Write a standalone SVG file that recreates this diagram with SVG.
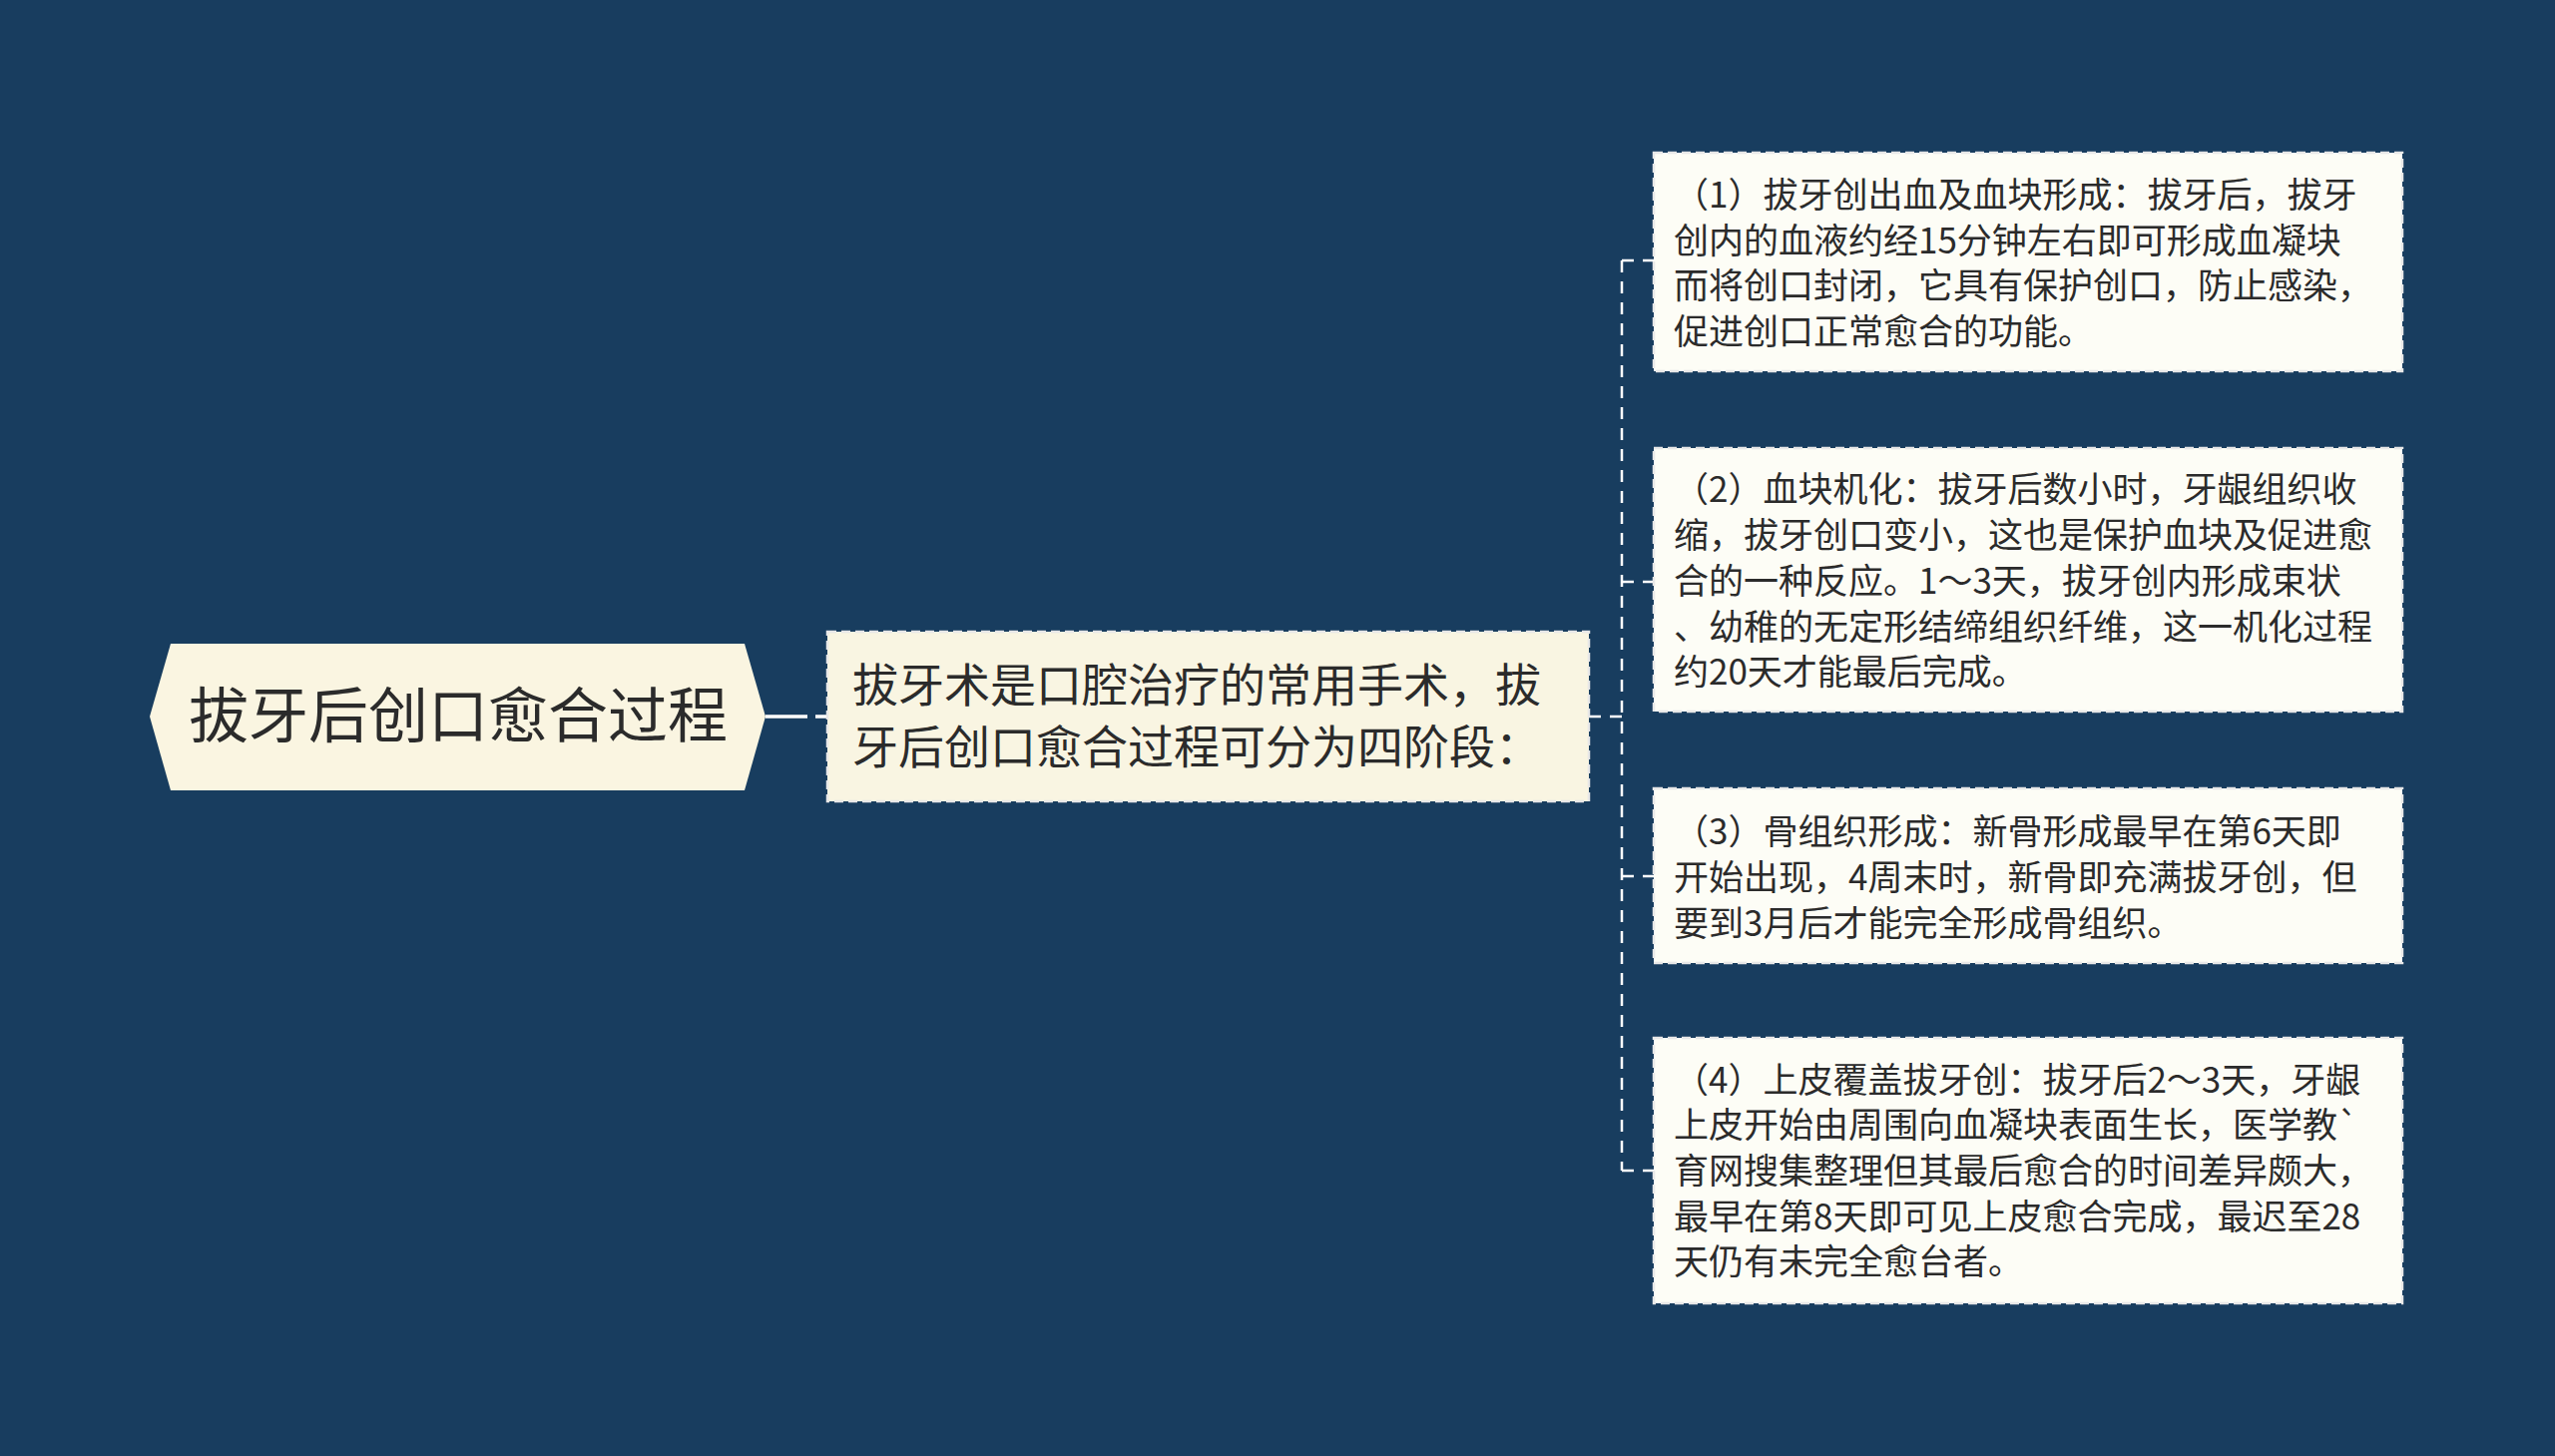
<svg xmlns="http://www.w3.org/2000/svg" width="2560" height="1459" viewBox="0 0 2560 1459">
<style>
.t{font-family:"Noto Sans CJK SC","Liberation Sans",sans-serif;fill:#2b2b2b}
.root{font-size:60px}
.mid{font-size:46px}
.leaf{font-size:35px}
.box{stroke:#e8e8e8;stroke-width:2.5;stroke-dasharray:9 5}
.conn{fill:none;stroke:#ffffff;stroke-width:2.5;stroke-dasharray:12 9}
</style>
<rect width="2560" height="1459" fill="#183d5f"/>
<g id="connectors">
<path d="M767 718 H829" fill="none" stroke="#ffffff" stroke-width="3.5" stroke-dasharray="42 8 12 8"/>
<path class="conn" d="M1592 718 H1625"/>
<path class="conn" d="M1625 261 V1173"/>
<path class="conn" d="M1625 261 H1657"/>
<path class="conn" d="M1625 583 H1657"/>
<path class="conn" d="M1625 878 H1657"/>
<path class="conn" d="M1625 1173 H1657"/>
</g>
<g id="root">
<polygon points="150,718 171,645 746,645 767,718 746,792 171,792" fill="#faf5e1"/>
<text class="t root" x="459" y="739" text-anchor="middle">拔牙后创口愈合过程</text>
</g>
<g id="mid">
<rect class="box" x="829" y="633" width="763" height="170" fill="#f9f5e2"/>
<text class="t mid" x="854" y="703">拔牙术是口腔治疗的常用手术，拔</text>
<text class="t mid" x="854" y="765">牙后创口愈合过程可分为四阶段：</text>
</g>
<g id="leaf1">
<rect class="box" x="1657" y="153" width="750" height="219" fill="#fdfdf6"/>
<text class="t leaf" x="1677" y="208">（1）拔牙创出血及血块形成：拔牙后，拔牙</text>
<text class="t leaf" x="1677" y="254">创内的血液约经15分钟左右即可形成血凝块</text>
<text class="t leaf" x="1677" y="299">而将创口封闭，它具有保护创口，防止感染，</text>
<text class="t leaf" x="1677" y="345">促进创口正常愈合的功能。</text>
</g>
<g id="leaf2">
<rect class="box" x="1657" y="449" width="750" height="264" fill="#fdfdf6"/>
<text class="t leaf" x="1677" y="503">（2）血块机化：拔牙后数小时，牙龈组织收</text>
<text class="t leaf" x="1677" y="549">缩，拔牙创口变小，这也是保护血块及促进愈</text>
<text class="t leaf" x="1677" y="595">合的一种反应。1～3天，拔牙创内形成束状</text>
<text class="t leaf" x="1677" y="641">、幼稚的无定形结缔组织纤维，这一机化过程</text>
<text class="t leaf" x="1677" y="686">约20天才能最后完成。</text>
</g>
<g id="leaf3">
<rect class="box" x="1657" y="790" width="750" height="175" fill="#fdfdf6"/>
<text class="t leaf" x="1677" y="846">（3）骨组织形成：新骨形成最早在第6天即</text>
<text class="t leaf" x="1677" y="892">开始出现，4周末时，新骨即充满拔牙创，但</text>
<text class="t leaf" x="1677" y="938">要到3月后才能完全形成骨组织。</text>
</g>
<g id="leaf4">
<rect class="box" x="1657" y="1040" width="750" height="266" fill="#fdfdf6"/>
<text class="t leaf" x="1677" y="1095">（4）上皮覆盖拔牙创：拔牙后2～3天，牙龈</text>
<text class="t leaf" x="1677" y="1140">上皮开始由周围向血凝块表面生长，医学教`</text>
<text class="t leaf" x="1677" y="1186">育网搜集整理但其最后愈合的时间差异颇大，</text>
<text class="t leaf" x="1677" y="1232">最早在第8天即可见上皮愈合完成，最迟至28</text>
<text class="t leaf" x="1677" y="1277">天仍有未完全愈台者。</text>
</g>
</svg>
